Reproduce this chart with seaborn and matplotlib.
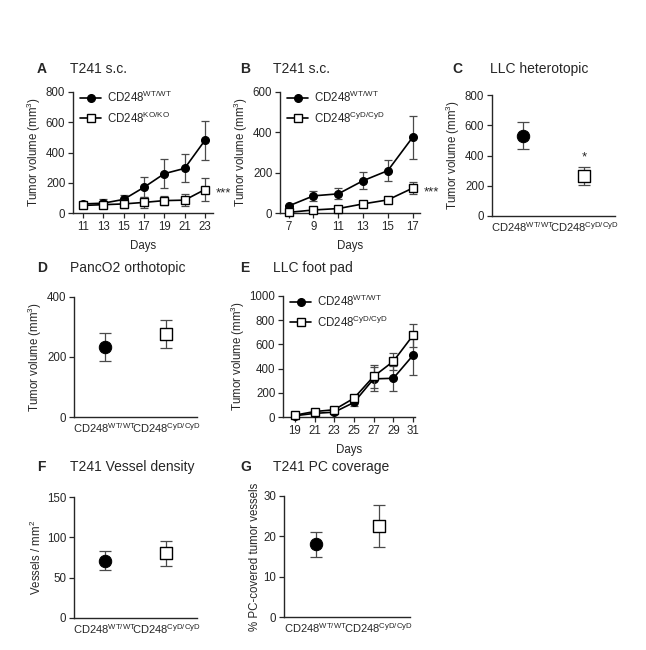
import seaborn as sns
import matplotlib.pyplot as plt
import pandas as pd

# values (mean, +/- error)
days_a = [11, 13, 15, 17, 19, 21, 23]
a_wt = [60, 65, 90, 170, 260, 295, 480]
a_wt_err = [15, 25, 30, 65, 98, 92, 130]
a_ko = [50, 55, 60, 70, 82, 85, 155]
a_ko_err = [15, 20, 25, 35, 30, 40, 78]

days_b = [7, 9, 11, 13, 15, 17]
b_wt = [35, 85, 95, 160, 210, 375]
b_wt_err = [6, 24, 27, 43, 52, 105]
b_cyd = [3, 15, 22, 45, 65, 123]
b_cyd_err = [4, 5, 5, 8, 8, 30]

days_e = [19, 21, 23, 25, 27, 29, 31]
e_wt = [10, 30, 40, 120, 315, 320, 510]
e_wt_err = [5, 10, 15, 30, 100, 105, 160]
e_cyd = [15, 45, 60, 155, 335, 460, 675]
e_cyd_err = [8, 15, 15, 20, 95, 70, 95]

groups = ["WT", "CyD"]
c_vals, c_err = [530, 265], [90, 62]
d_vals, d_err = [233, 277], [47, 47]
f_vals, f_err = [71, 80], [12, 16]
g_vals, g_err = [18, 22.5], [3, 5.2]

WT = r"CD248$^{\mathrm{WT/WT}}$"
KO = r"CD248$^{\mathrm{KO/KO}}$"
CYD = r"CD248$^{\mathrm{CyD/CyD}}$"
YVOL = r"Tumor volume (mm$^{\mathrm{3}}$)"

W, H = 646, 650
ECOL = "#4a4a4a"


def rect(x0, y0, x1, y1):
    return [x0 / W, 1 - y1 / H, (x1 - x0) / W, (y1 - y0) / H]


def style_ax(ax):
    sns.despine(ax=ax)
    ax.tick_params(direction="out", length=3.5, width=0.9, labelsize=8.3, pad=2)
    for s in ["left", "bottom"]:
        ax.spines[s].set_linewidth(1.0)


def series(ax, x, y, err, marker, face, label, z):
    ax.errorbar(x, y, yerr=err, fmt="none", ecolor=ECOL, elinewidth=0.9,
                capsize=3, capthick=0.9, zorder=z - 1, clip_on=False)
    df = pd.DataFrame({"x": x, "y": y})
    sns.lineplot(data=df, x="x", y="y", ax=ax, color="black", lw=1.2,
                 marker=marker, markersize=5.5, markerfacecolor=face,
                 markeredgecolor="black", markeredgewidth=1.0, label=label,
                 zorder=z, clip_on=False)


def time_panel(ax, days, s1, s2, lab2, xlim, ylim, yticks, stars=None):
    series(ax, days, s1[0], s1[1], "o", "black", WT, 4)
    series(ax, days, s2[0], s2[1], "s", "white", lab2, 6)
    ax.set_xlim(*xlim)
    ax.set_ylim(*ylim)
    ax.set_xticks(days)
    ax.set_yticks(yticks)
    ax.set_xlabel("Days", fontsize=8.3, labelpad=5)
    ax.set_ylabel(YVOL, fontsize=8.3, labelpad=2)
    style_ax(ax)
    ax.legend(loc="upper left", bbox_to_anchor=(0.02, 1.06), frameon=False,
              fontsize=8.3, handlelength=1.8, handletextpad=0.5,
              labelspacing=0.5, borderaxespad=0)
    if stars:
        ax.annotate("***", (days[-1], s2[0][-1]), xytext=(11, -4),
                    textcoords="offset pixels", fontsize=9.5, va="center")


def cat_panel(ax, vals, err, ylim, yticks, ylabel):
    df = pd.DataFrame({"g": groups, "v": vals})
    ax.errorbar([0, 1], vals, yerr=err, fmt="none", ecolor=ECOL,
                elinewidth=0.9, capsize=4, capthick=0.9, zorder=2)
    sns.scatterplot(data=df[df.g == "WT"], x="g", y="v", ax=ax, marker="o",
                    s=80, color="black", edgecolor="black", zorder=3)
    sns.scatterplot(data=df[df.g == "CyD"], x="g", y="v", ax=ax, marker="s",
                    s=80, facecolor="white", edgecolor="black", linewidth=1.0,
                    zorder=3)
    ax.set_xlim(-0.5, 1.5)
    ax.set_ylim(*ylim)
    ax.set_yticks(yticks)
    ax.set_xticks([0, 1])
    ax.set_xticklabels([WT, CYD])
    ax.set_xlabel("")
    ax.set_ylabel(ylabel, fontsize=8.3, labelpad=2)
    style_ax(ax)
    ax.tick_params(axis="x", length=0, labelsize=8, pad=3)


sns.set_theme(style="ticks")
plt.rcParams["font.family"] = ["Liberation Sans", "DejaVu Sans"]
plt.rcParams["mathtext.fontset"] = "custom"
plt.rcParams["mathtext.rm"] = "Liberation Sans"
plt.rcParams["mathtext.it"] = "Liberation Sans:italic"
plt.rcParams["mathtext.bf"] = "Liberation Sans:bold"

fig = plt.figure(figsize=(W / 100, H / 100), dpi=100)

ax_a = fig.add_axes(rect(73, 92, 213, 213))
time_panel(ax_a, days_a, (a_wt, a_wt_err), (a_ko, a_ko_err), KO,
           (10.0, 23.8), (0, 800), [0, 200, 400, 600, 800], stars=True)

ax_b = fig.add_axes(rect(280, 92, 420, 213))
time_panel(ax_b, days_b, (b_wt, b_wt_err), (b_cyd, b_cyd_err), CYD,
           (6.3, 17.6), (0, 600), [0, 200, 400, 600], stars=True)

ax_c = fig.add_axes(rect(492, 95, 615, 216))
cat_panel(ax_c, c_vals, c_err, (0, 800), [0, 200, 400, 600, 800], YVOL)
ax_c.text(1, 390, "*", ha="center", va="center", fontsize=9.5)

ax_d = fig.add_axes(rect(74, 297, 197, 417))
cat_panel(ax_d, d_vals, d_err, (0, 400), [0, 200, 400], YVOL)

ax_e = fig.add_axes(rect(283, 296, 415, 417))
time_panel(ax_e, days_e, (e_wt, e_wt_err), (e_cyd, e_cyd_err), CYD,
           (17.8, 31.2), (0, 1000), [0, 200, 400, 600, 800, 1000])

ax_f = fig.add_axes(rect(74, 497, 197, 618))
cat_panel(ax_f, f_vals, f_err, (0, 150), [0, 50, 100, 150],
          r"Vessels / mm$^{\mathrm{2}}$")

ax_g = fig.add_axes(rect(284, 496, 410, 617))
cat_panel(ax_g, g_vals, g_err, (0, 30), [0, 10, 20, 30],
          "% PC-covered tumor vessels")

titles = [
    ("A", "T241 s.c.", 37, 70, 69),
    ("B", "T241 s.c.", 240, 273, 69),
    ("C", "LLC heterotopic", 452, 490, 69),
    ("D", "PancO2 orthotopic", 37, 70, 268),
    ("E", "LLC foot pad", 240, 273, 268),
    ("F", "T241 Vessel density", 37, 70, 467),
    ("G", "T241 PC coverage", 240, 273, 467),
]
for letter, txt, xl, xt, y in titles:
    fig.text(xl / W, 1 - y / H, letter, fontsize=10, fontweight="bold",
             va="center", ha="left")
    fig.text(xt / W, 1 - y / H, txt, fontsize=10, va="center", ha="left")

fig.savefig("out.png", dpi=100)
